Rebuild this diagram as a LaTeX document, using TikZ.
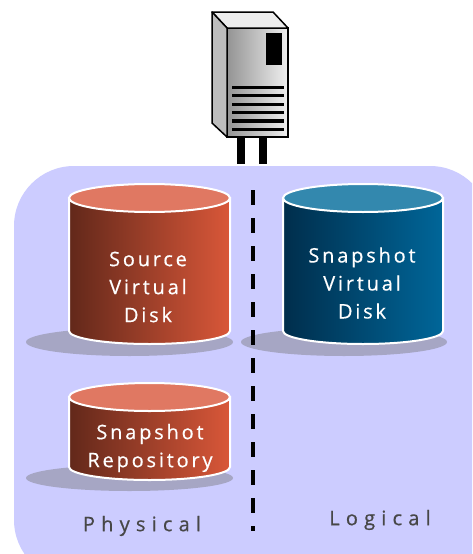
\documentclass[tikz,border=0pt]{standalone}
\usepackage{fontspec}
\setsansfont[LetterSpace=14,FakeBold=0.4]{Open Sans}
\newfontfamily\widesans[LetterSpace=31,FakeBold=0.6]{Open Sans}
\usetikzlibrary{positioning}

\definecolor{panelblue}{HTML}{CCCCFF}
\definecolor{shadowgray}{HTML}{A6A6C4}
\definecolor{redleft}{HTML}{62281A}
\definecolor{redright}{HTML}{D95739}
\definecolor{redtop}{HTML}{E07862}
\definecolor{blueleft}{HTML}{002E4C}
\definecolor{blueright}{HTML}{006699}
\definecolor{bluetop}{HTML}{3388AE}

% left x, right x, top y, bottom y, then three colours
\newcommand{\diskbody}[7]{
  \path[left color=#5, right color=#6, draw=white, line width=2pt]
    (#1,#3) -- (#2,#3) -- (#2,#4)
    arc[start angle=0, end angle=180, x radius={(#2-#1)/2}, y radius=13]
    -- cycle;
  \path[fill=#7, draw=white, line width=2pt]
    ({(#1+#2)/2},#3) ellipse[x radius={(#2-#1)/2}, y radius=14];
}

\tikzset{
  disklabel/.style={font=\sffamily\fontsize{20pt}{28pt}\selectfont, text=white, align=center, inner sep=0pt},
  sidelabel/.style={font=\widesans\fontsize{20pt}{24pt}\selectfont, text=black!72, inner sep=0pt},
  floorshadow/.style={fill=shadowgray},
  slot/.style={black, line width=3.2pt},
  leg/.style={fill=black}
}

\begin{document}
\begin{tikzpicture}[x=1pt, y=-1pt]

  \clip (0,0) rectangle (472,554);
  \fill[white] (0,0) rectangle (472,554);
  \fill[panelblue, rounded corners=60pt] (14,166) rectangle (490,580);

  % server
  \fill[leg] (237,136) rectangle (245,164);
  \fill[leg] (259,136) rectangle (267,164);
  \path[left color=black!42, right color=black!6, draw=black, line width=1.5pt]
    (227,28) rectangle (288,137);
  \filldraw[fill=black!7, line width=1.5pt, line join=round]
    (212,12) -- (273,12) -- (288,28) -- (227,28) -- cycle;
  \filldraw[fill=black!26, line width=1.5pt, line join=round]
    (212,12) -- (227,28) -- (227,137) -- (212,123) -- cycle;
  \fill[black] (266,33) rectangle (282,65);
  \foreach \y in {87.7,95.7,104.3,112.3,121,129.3}
    \draw[slot] (232,\y) -- (284,\y);

  % disks
  \fill[floorshadow] (129.5,342) ellipse[x radius=103.5, y radius=14];
  \fill[floorshadow] (344,342) ellipse[x radius=103, y radius=14];
  \fill[floorshadow] (129.5,478) ellipse[x radius=103.5, y radius=13];

  \diskbody{69}{230}{198}{331}{redleft}{redright}{redtop}
  \diskbody{283}{443}{198}{331}{blueleft}{blueright}{bluetop}
  \diskbody{69}{230}{397}{467}{redleft}{redright}{redtop}

  \node[disklabel] (src) at (148,287) {Source\\Virtual\\Disk};
  \node[disklabel] (snp) at (362,283) {Snapshot\\Virtual\\Disk};
  \node[disklabel] (rep) at (150,448) {Snapshot\\Repository};

  % divider
  \coordinate (divT) at (253,190);
  \coordinate (divB) at (253,531);
  \draw[line width=3.8pt, dash pattern=on 15pt off 13pt] (divT) -- (divB);

  \node[sidelabel] (phy) at (142,526) {Physical};
  \node[sidelabel] (log) at (380,520) {Logical};

\end{tikzpicture}
\end{document}
